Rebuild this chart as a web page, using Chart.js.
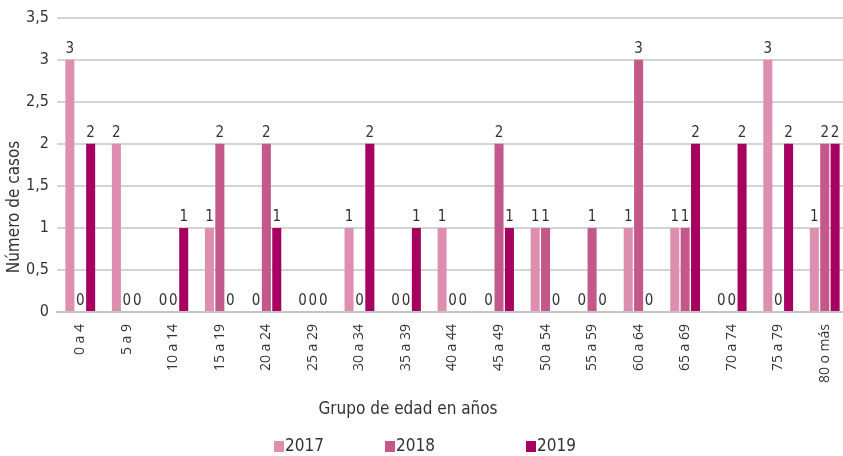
<!DOCTYPE html>
<html lang="es">
<head>
  <meta charset="UTF-8">
  <script src="https://cdn.jsdelivr.net/npm/chart.js"></script>
  <title>Casos por grupo de edad</title>
  <style>
    html, body{margin:0; padding:0; background:#fff; overflow:hidden;}
    #wrap{width:860px; height:456px; position:relative;}
  </style>
</head>
<body>
  <div id="wrap">
    <canvas id="myChart" width="860" height="456"></canvas>
  </div>
  <script>
    // datos
    const grupos = ['0 a 4','5 a 9','10 a 14','15 a 19','20 a 24','25 a 29','30 a 34','35 a 39',
                    '40 a 44','45 a 49','50 a 54','55 a 59','60 a 64','65 a 69','70 a 74','75 a 79','80 o más'];
    const casos2017 = [3,2,0,1,0,0,1,0,1,0,1,0,1,1,0,3,1];
    const casos2018 = [0,0,0,2,2,0,0,0,0,2,1,1,3,1,0,0,2];
    const casos2019 = [2,0,1,0,1,0,2,1,0,1,0,0,0,2,2,2,2];
    const anios = ['2017','2018','2019'];
    const colores = ['#de8faf','#c4588a','#a60061'];

    const fontNarrow = '"Liberation Sans Narrow", "DejaVu Sans Condensed", sans-serif';
    const fontTicks = '"Open Sans", sans-serif';

    // etiquetas de valor encima de cada barra
    const valueLabels = {
      id: 'valueLabels',
      afterDatasetsDraw(chart){
        const ctx = chart.ctx;
        ctx.save();
        ctx.font = '15px ' + fontNarrow;
        ctx.fillStyle = '#333';
        ctx.textAlign = 'center';
        ctx.textBaseline = 'bottom';
        chart.data.datasets.forEach((ds, i) => {
          chart.getDatasetMeta(i).data.forEach((bar, j) => {
            ctx.fillText(ds.data[j], bar.x, bar.y - 3);
          });
        });
        ctx.restore();
      }
    };

    // títulos de ejes y leyenda
    const extras = {
      id: 'extras',
      afterDraw(chart){
        const ctx = chart.ctx;
        ctx.save();
        ctx.fillStyle = '#333';
        ctx.font = '17px ' + fontNarrow;
        ctx.textAlign = 'center';
        ctx.textBaseline = 'middle';
        ctx.fillText('Grupo de edad en años', 408, 410);

        ctx.save();
        ctx.translate(15, 207);
        ctx.rotate(-Math.PI/2);
        ctx.fillText('Número de casos', 0, 0);
        ctx.restore();

        const boxX = [274, 385, 526];
        ctx.textAlign = 'left';
        ctx.font = '17px ' + fontNarrow;
        anios.forEach((a, i) => {
          ctx.fillStyle = colores[i];
          ctx.fillRect(boxX[i], 441, 10, 11);
          ctx.fillStyle = '#333';
          ctx.fillText(a, boxX[i] + 11, 447);
        });
        ctx.restore();
      }
    };

    const ctx = document.getElementById('myChart');
    new Chart(ctx, {
      type: 'bar',
      data: {
        labels: grupos,
        datasets: [
          {label: anios[0], data: casos2017, backgroundColor: colores[0]},
          {label: anios[1], data: casos2018, backgroundColor: colores[1]},
          {label: anios[2], data: casos2019, backgroundColor: colores[2]}
        ]
      },
      options: {
        responsive: false,
        animation: false,
        devicePixelRatio: 1,
        categoryPercentage: 0.67,
        barPercentage: 0.87,
        layout: {padding: {top: 10, right: 12, left: 0, bottom: 0}},
        plugins: {
          legend: {display: false},
          tooltip: {enabled: false}
        },
        scales: {
          x: {
            grid: {display: false},
            border: {color: '#c4c4c4', width: 2},
            ticks: {
              color: '#333',
              font: {family: fontTicks, size: 14},
              minRotation: 90,
              maxRotation: 90,
              autoSkip: false,
              padding: 4
            },
            afterFit(scale){ scale.height = 144; }
          },
          y: {
            min: 0,
            max: 3.5,
            ticks: {
              stepSize: 0.5,
              color: '#333',
              font: {family: fontNarrow, size: 16},
              padding: 8,
              callback: v => String(v).replace('.', ',')
            },
            grid: {color: '#d4d4d4', lineWidth: 2, drawTicks: false},
            border: {display: false},
            afterFit(scale){ scale.width = 57; }
          }
        }
      },
      plugins: [valueLabels, extras]
    });
  </script>
</body>
</html>
